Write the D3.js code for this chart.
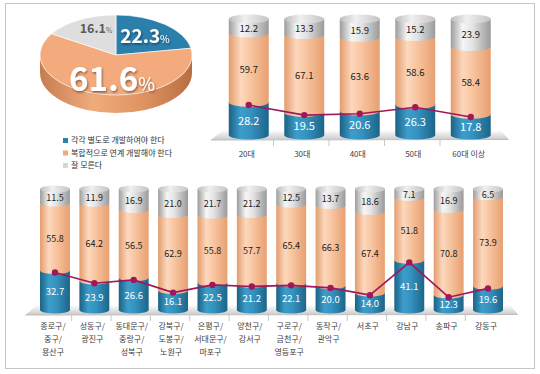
<!DOCTYPE html>
<html>
<head>
<meta charset="utf-8">
<script src="https://cdn.jsdelivr.net/npm/d3@7"></script>
<style>
  html, body { margin: 0; padding: 0; background: #fff; }
  svg { display: block; font-family: "Noto Sans CJK KR", "Noto Sans", sans-serif; }
</style>
</head>
<body>
<script>
// data
const pieLabels = ["각각 별도로 개발하여야 한다", "복합적으로 연계 개발해야 한다", "잘 모른다"];
const pieValues = [22.3, 61.6, 16.1];

const ageCats = ["20대", "30대", "40대", "50대", "60대 이상"];
const ageSeparate = [28.2, 19.5, 20.6, 26.3, 17.8];
const ageLinked = [59.7, 67.1, 63.6, 58.6, 58.4];
const ageUnknown = [12.2, 13.3, 15.9, 15.2, 23.9];

const districts = ["종로구/\n중구/\n용산구", "성동구/\n광진구", "동대문구/\n중랑구/\n성북구", "강북구/\n도봉구/\n노원구",
  "은평구/\n서대문구/\n마포구", "양천구/\n강서구", "구로구/\n금천구/\n영등포구", "동작구/\n관악구",
  "서초구", "강남구", "송파구", "강동구"];
const distSeparate = [32.7, 23.9, 26.6, 16.1, 22.5, 21.2, 22.1, 20.0, 14.0, 41.1, 12.3, 19.6];
const distLinked = [55.8, 64.2, 56.5, 62.9, 55.8, 57.7, 65.4, 66.3, 67.4, 51.8, 70.8, 73.9];
const distUnknown = [11.5, 11.9, 16.9, 21.0, 21.7, 21.2, 12.5, 13.7, 18.6, 7.1, 16.9, 6.5];

const keys = ["sep", "link", "unk"];
const colors = { sep: "#2b81ad", link: "#f2a97a", unk: "#d6d6d6" };
const fmt = d3.format(".1f");

const svg = d3.select("body").append("svg").attr("width", 540).attr("height", 374);
const defs = svg.append("defs");

// horizontal cylinder gradients
function cylGrad(id, stops) {
  const g = defs.append("linearGradient").attr("id", id).attr("x1", "0%").attr("x2", "100%");
  stops.forEach(s => g.append("stop").attr("offset", s[0]).attr("stop-color", s[1]));
}
cylGrad("g-sep", [["0%", "#1b6184"], ["30%", "#3d9dca"], ["55%", "#3592bf"], ["100%", "#1c6588"]]);
cylGrad("g-link", [["0%", "#e39c6c"], ["30%", "#fcd8bd"], ["55%", "#f8c49f"], ["100%", "#e79f70"]]);
cylGrad("g-unk", [["0%", "#9c9c9c"], ["30%", "#f6f6f6"], ["55%", "#e2e2e2"], ["100%", "#9a9a9a"]]);
cylGrad("g-cap", [["0%", "#bdbdbd"], ["40%", "#f0f0f0"], ["100%", "#c4c4c4"]]);
cylGrad("g-side", [["0%", "#c77c4f"], ["35%", "#f0ab7c"], ["70%", "#dd915f"], ["100%", "#b86e43"]]);
const floorGrad = defs.append("linearGradient").attr("id", "g-floor").attr("x1", "0").attr("x2", "0").attr("y1", "0").attr("y2", "1");
floorGrad.append("stop").attr("offset", "0%").attr("stop-color", "#ffffff");
floorGrad.append("stop").attr("offset", "100%").attr("stop-color", "#c9c9c9");
const shadow = defs.append("filter").attr("id", "shadow").attr("x", "-20%").attr("y", "-20%").attr("width", "140%").attr("height", "140%");
shadow.append("feDropShadow").attr("dx", 1).attr("dy", 1.5).attr("stdDeviation", 1).attr("flood-color", "#000").attr("flood-opacity", 0.45);

// outer frame
svg.append("rect").attr("x", 5.5).attr("y", 3.5).attr("width", 529).attr("height", 365)
  .attr("fill", "none").attr("stroke", "#8a8a8a").attr("stroke-dasharray", "1,1");

// ---------- pie ----------
const pcx = 116, pcy = 55, prx = 76, pry = 40, depth = 18;
const arcs = d3.pie().sort(null).value(d => d)(pieValues);
const pieG = svg.append("g");
// visible side (front half)
arcs.forEach((a, i) => {
  const a0 = Math.max(a.startAngle, Math.PI / 2), a1 = Math.min(a.endAngle, 3 * Math.PI / 2);
  if (a1 <= a0) return;
  const px = t => pcx + prx * Math.sin(t), py = t => pcy - pry * Math.cos(t);
  const p = `M${px(a0)},${py(a0)} A${prx},${pry} 0 0 1 ${px(a1)},${py(a1)} L${px(a1)},${py(a1) + depth} A${prx},${pry} 0 0 0 ${px(a0)},${py(a0) + depth} Z`;
  pieG.append("path").attr("d", p).attr("fill", i === 1 ? "url(#g-side)" : d3.color(colors[keys[i]]).darker(0.6));
});
const topG = pieG.append("g").attr("transform", `translate(${pcx},${pcy}) scale(1,${pry / prx})`);
topG.selectAll("path").data(arcs).join("path")
  .attr("d", d3.arc().innerRadius(0).outerRadius(prx))
  .attr("fill", (d, i) => ["#2b7fab", "#f3ab7d", "#dedede"][i])
  .attr("stroke", "#fff").attr("stroke-width", 0.8);

function pctLabel(x, y, v, size, color, filt) {
  const t = svg.append("text").attr("x", x).attr("y", y).attr("text-anchor", "middle")
    .attr("font-weight", "bold").attr("fill", color).attr("font-size", size);
  if (filt) t.attr("filter", "url(#shadow)");
  t.append("tspan").text(fmt(v));
  t.append("tspan").attr("font-size", size * 0.55).attr("font-weight", "normal").text("%");
}
pctLabel(145, 43, pieValues[0], 19, "#fff", true);
pctLabel(96, 33, pieValues[2], 12.5, "#5a5a5a", false);
pctLabel(112, 91, pieValues[1], 33, "#fff", true);

// legend
const leg = svg.append("g").attr("transform", "translate(63,140)");
pieLabels.forEach((l, i) => {
  const r = leg.append("g").attr("transform", `translate(0,${i * 12.5})`);
  r.append("rect").attr("width", 5).attr("height", 5).attr("y", -2).attr("fill", colors[keys[i]]);
  r.append("text").attr("x", 8).attr("y", 3).attr("font-size", 8).attr("fill", "#333").text(l);
});

// ---------- stacked cylinder chart ----------
function cylinderChart(cats, sep, link, unk, o) {
  const rows = cats.map((c, i) => ({ cat: c, sep: sep[i], link: link[i], unk: unk[i] }));
  const series = d3.stack().keys(keys)(rows);
  const x = d3.scaleBand().domain(cats).range(o.xr).paddingInner(o.pad).paddingOuter(o.pad / 2);
  const y = d3.scaleLinear().domain([0, 100]).range(o.yr);
  const w = x.bandwidth(), ry = o.ry;
  const g = svg.append("g");

  // floor
  const fx0 = o.xr[0] - 10, fx1 = o.xr[1] + 10, base = o.yr[0];
  g.append("path")
    .attr("d", `M${fx0},${base + 5} L${fx0 + 12},${base - 5} L${fx1 - 8},${base - 5} L${fx1},${base + 4} Z`)
    .attr("fill", "url(#g-floor)");
  g.append("line").attr("x1", fx0).attr("x2", fx1).attr("y1", base + 5).attr("y2", base + 4.5)
    .attr("stroke", "#bdbdbd").attr("stroke-width", 1);
  cats.slice(1).forEach(c => {
    const tx = x(c) - x.step() * x.paddingInner() / 2 - 3;
    g.append("line").attr("x1", tx).attr("x2", tx).attr("y1", base + 5).attr("y2", base + 11)
      .attr("stroke", "#c8c8c8");
  });

  const seg = (xc, y0, y1) =>
    `M${xc - w / 2},${y1} L${xc + w / 2},${y1} L${xc + w / 2},${y0} A${w / 2},${ry} 0 0 1 ${xc - w / 2},${y0} Z`;

  series.forEach(s => {
    g.append("g").selectAll("path").data(s).join("path")
      .attr("d", d => seg(x(d.data.cat) + w / 2, y(d[0]), y(d[1])))
      .attr("fill", `url(#g-${s.key})`);
  });
  // caps
  g.append("g").selectAll("ellipse").data(series[2]).join("ellipse")
    .attr("cx", d => x(d.data.cat) + w / 2).attr("cy", d => y(d[1]))
    .attr("rx", w / 2).attr("ry", ry).attr("fill", "url(#g-cap)");

  // value labels
  series.forEach(s => {
    g.append("g").selectAll("text").data(s).join("text")
      .attr("x", d => x(d.data.cat) + w / 2)
      .attr("y", d => (y(d[0]) + y(d[1])) / 2 + ry * 0.5 + (s.key === "unk" ? -o.unkShift : 0))
      .attr("dy", "0.35em").attr("text-anchor", "middle")
      .attr("font-size", s.key === "sep" ? o.fsBlue : o.fs)
      .attr("fill", s.key === "sep" ? "#fff" : "#1a1a1a")
      .text(d => fmt(d.data[s.key]));
  });

  // line of "separate" share
  const lx = d => x(d.cat) + w / 2, ly = d => y(d.sep) + ry * 0.6;
  g.append("path").datum(rows)
    .attr("d", d3.line().x(lx).y(ly))
    .attr("fill", "none").attr("stroke", "#a0175a").attr("stroke-width", 1.6);
  g.append("g").selectAll("circle").data(rows).join("circle")
    .attr("cx", lx).attr("cy", ly).attr("r", 3.2).attr("fill", "#a0175a");

  // category labels
  const lab = g.append("g").selectAll("text").data(cats).join("text")
    .attr("x", c => x(c) + w / 2 - 2).attr("y", o.labelY)
    .attr("text-anchor", "middle").attr("font-size", 8).attr("fill", "#404040");
  lab.each(function (c) {
    c.split("\n").forEach((line, i) => {
      d3.select(this).append("tspan").attr("x", x(c) + w / 2 - 2).attr("dy", i === 0 ? 0 : 13.2).text(line);
    });
  });
}

cylinderChart(ageCats, ageSeparate, ageLinked, ageUnknown, {
  xr: [221, 498.5], yr: [135, 19], pad: 0.28, ry: 4.5, fs: 9.5, fsBlue: 11, unkShift: 0, labelY: 157
});
cylinderChart(districts, distSeparate, distLinked, distUnknown, {
  xr: [35.3, 507.7], yr: [310, 189], pad: 0.24, ry: 3.5, fs: 9, fsBlue: 9.5, unkShift: 0, labelY: 329
});
</script>
</body>
</html>
